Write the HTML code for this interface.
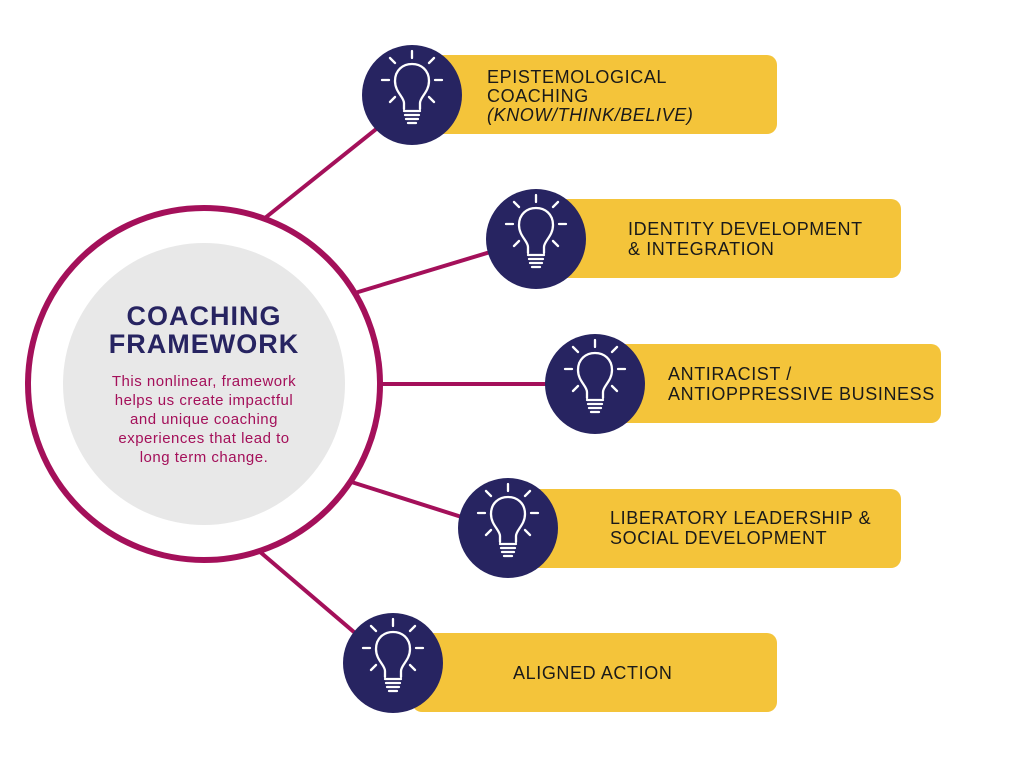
<!DOCTYPE html>
<html><head><meta charset="utf-8"><style>
body{margin:0;background:#fff;width:1024px;height:768px;overflow:hidden}
svg text{font-family:"Liberation Sans",sans-serif}
</style></head><body>
<svg width="1024" height="768" viewBox="0 0 1024 768">
<defs>
<g id="bulb">
<circle r="50" fill="#272461"/>
<g stroke="#fff" stroke-width="2.3" fill="none" stroke-linecap="round">
<path d="M-8,14 L-8,8 C-8,2 -17,-3 -17,-14 C-17,-25 -9,-31 0,-31 C9,-31 17,-25 17,-14 C17,-3 8,2 8,8 L8,14"/>
<path d="M-8,16 H8 M-7,20 H7 M-6,24 H6 M-4,28 H4"/>
<path d="M0,-44 V-37 M-30,-15 H-23 M23,-15 H30 M-22,-37 L-17,-32 M22,-37 L17,-32 M-22,7 L-17,2 M22,7 L17,2"/>
</g>
</g>
</defs>
<g stroke="#a4105a" stroke-width="4">
<line x1="255" y1="226" x2="400" y2="110"/>
<line x1="345" y1="296" x2="520" y2="243"/>
<line x1="370" y1="384" x2="595" y2="384"/>
<line x1="342" y1="479" x2="490" y2="526"/>
<line x1="252" y1="545" x2="375" y2="650"/>
</g>
<circle cx="204" cy="384" r="176" fill="#fff" stroke="#a4105a" stroke-width="6"/>
<circle cx="204" cy="384" r="141" fill="#e8e8e8"/>
<text x="204" y="325" text-anchor="middle" font-size="27" font-weight="bold" letter-spacing="1" fill="#272461">COACHING</text>
<text x="204" y="353" text-anchor="middle" font-size="27" font-weight="bold" letter-spacing="1" fill="#272461">FRAMEWORK</text>
<g font-size="15" letter-spacing="0.5" fill="#a4105a" text-anchor="middle">
<text x="204" y="386">This nonlinear, framework</text>
<text x="204" y="405">helps us create impactful</text>
<text x="204" y="424">and unique coaching</text>
<text x="204" y="443">experiences that lead to</text>
<text x="204" y="462">long term change.</text>
</g>
<g fill="#f4c43a">
<rect x="430" y="55" width="347" height="79" rx="10"/>
<rect x="555" y="199" width="346" height="79" rx="10"/>
<rect x="614" y="344" width="327" height="79" rx="10"/>
<rect x="527" y="489" width="374" height="79" rx="10"/>
<rect x="412" y="633" width="365" height="79" rx="10"/>
</g>
<use href="#bulb" x="412" y="95"/>
<use href="#bulb" x="536" y="239"/>
<use href="#bulb" x="595" y="384"/>
<use href="#bulb" x="508" y="528"/>
<use href="#bulb" x="393" y="663"/>
<g font-size="18" letter-spacing="0.6" fill="#1a1a1a">
<text x="487" y="83">EPISTEMOLOGICAL</text>
<text x="487" y="102">COACHING</text>
<text x="487" y="121" font-style="italic">(KNOW/THINK/BELIVE)</text>
<text x="628" y="235">IDENTITY DEVELOPMENT</text>
<text x="628" y="255">&amp; INTEGRATION</text>
<text x="668" y="380">ANTIRACIST /</text>
<text x="668" y="400">ANTIOPPRESSIVE BUSINESS</text>
<text x="610" y="524">LIBERATORY LEADERSHIP &amp;</text>
<text x="610" y="544">SOCIAL DEVELOPMENT</text>
<text x="513" y="679">ALIGNED ACTION</text>
</g>
</svg>
</body></html>
